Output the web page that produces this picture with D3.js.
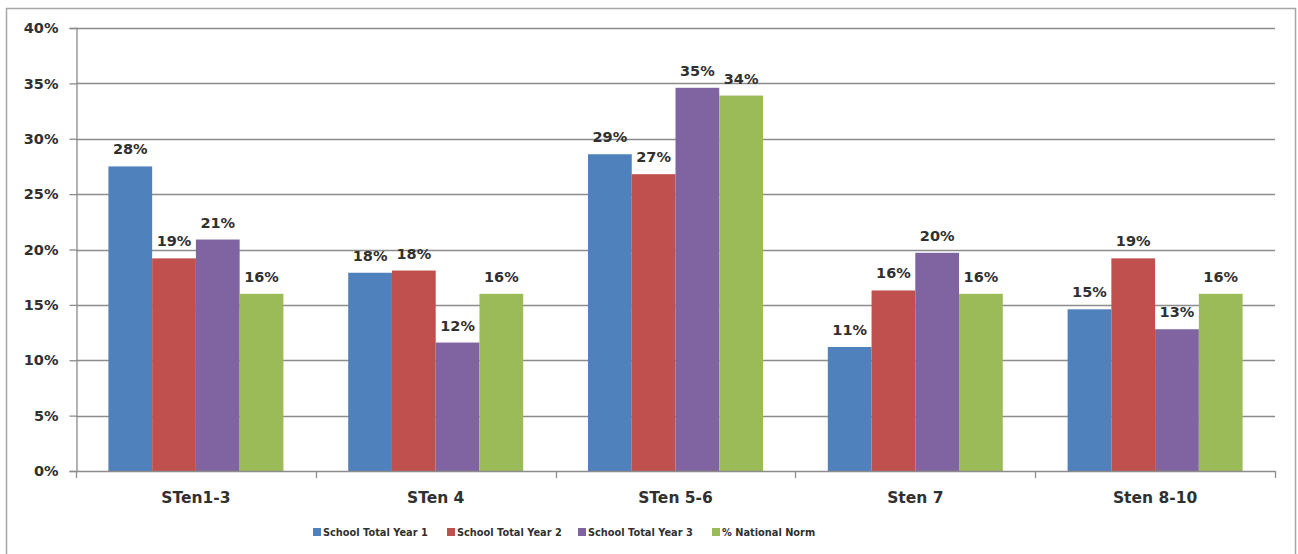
<!DOCTYPE html>
<html><head><meta charset="utf-8">
<script src="https://cdn.jsdelivr.net/npm/d3@7/dist/d3.min.js"></script>
<style>body{margin:0;background:#fff}svg{display:block}</style>
</head><body>
<svg id="c" width="1298" height="554"></svg>
<script>
const categories = ["STen1-3", "STen 4", "STen 5-6", "Sten 7", "Sten 8-10"];
const seriesNames = ["School Total Year 1", "School Total Year 2", "School Total Year 3", "% National Norm"];
const year1 = [27.5, 17.9, 28.6, 11.2, 14.6];
const year2 = [19.2, 18.1, 26.8, 16.3, 19.2];
const year3 = [20.9, 11.6, 34.6, 19.7, 12.8];
const norm  = [16.0, 16.0, 33.9, 16.0, 16.0];
const yTicks = [0, 5, 10, 15, 20, 25, 30, 35, 40];
const colors = ["#4F81BD", "#C0504D", "#8064A2", "#9BBB59"];

const seriesValues = [year1, year2, year3, norm];
const svg = d3.select("#c");
const M = {left: 76, right: 1275, top: 28, bottom: 471};
const font = "'DejaVu Sans', Verdana, sans-serif";
const textCol = "#303030";

svg.append("rect").attr("x", 6.5).attr("y", 8.5).attr("width", 1289).attr("height", 560)
  .attr("fill", "#fff").attr("stroke", "#a6a6a6").attr("stroke-width", 1.5);

const x0 = d3.scaleBand().domain(categories).range([M.left, M.right]).paddingInner(0).paddingOuter(0);
const groupW = 175;
const x1 = d3.scaleBand().domain(seriesNames).range([0, groupW]);
const y = d3.scaleLinear().domain([0, 40]).range([M.bottom, M.top]);

// gridlines
svg.append("g").selectAll("line").data(yTicks.filter(d => d > 0)).join("line")
  .attr("x1", M.left).attr("x2", M.right)
  .attr("y1", d => Math.round(y(d)) + 0.5).attr("y2", d => Math.round(y(d)) + 0.5)
  .attr("stroke", "#8c8c8c").attr("stroke-width", 1.3);

// y axis
const yAxis = d3.axisLeft(y).tickValues(yTicks).tickFormat(d => d + "%").tickSize(7).tickPadding(8);
const gy = svg.append("g").attr("transform", `translate(${M.left + 0.5},0)`).call(yAxis);
gy.select(".domain").attr("stroke", "#8c8c8c").attr("stroke-width", 1.3);
gy.selectAll(".tick line").attr("stroke", "#8c8c8c").attr("stroke-width", 1.3);
gy.selectAll(".tick text").attr("font-family", font).attr("font-size", 14.5).attr("font-weight", "bold")
  .attr("fill", textCol).attr("dx", -3);

// bars
const groups = svg.append("g").selectAll("g").data(categories).join("g")
  .attr("transform", c => `translate(${x0(c) + (x0.bandwidth() - groupW) / 2},0)`);
groups.each(function(c, ci) {
  const g = d3.select(this);
  seriesNames.forEach((s, si) => {
    const v = seriesValues[si][ci];
    g.append("rect").attr("x", x1(s)).attr("width", x1.bandwidth())
      .attr("y", y(v)).attr("height", y(0) - y(v)).attr("fill", colors[si]);
    g.append("text").attr("x", x1(s) + x1.bandwidth() / 2).attr("y", y(v) - 12)
      .attr("text-anchor", "middle").attr("font-family", font).attr("font-size", 14.5)
      .attr("font-weight", "bold").attr("fill", textCol).text(Math.round(v) + "%");
  });
});

// x axis
const xAxis = d3.axisBottom(x0).tickSize(0).tickPadding(20);
const gx = svg.append("g").attr("transform", `translate(0,${M.bottom + 0.5})`).call(xAxis);
gx.select(".domain").attr("stroke", "#8c8c8c").attr("stroke-width", 1.3).attr("d", `M${M.left},0H${M.right}`);
gx.selectAll(".tick text").attr("font-family", font).attr("font-size", 15.5).attr("font-weight", "bold").attr("fill", textCol);
const bounds = d3.range(categories.length + 1).map(i => M.left + i * x0.bandwidth());
svg.append("g").selectAll("line").data(bounds).join("line")
  .attr("x1", d => Math.round(d) + 0.5).attr("x2", d => Math.round(d) + 0.5)
  .attr("y1", M.bottom).attr("y2", M.bottom + 7)
  .attr("stroke", "#8c8c8c").attr("stroke-width", 1.3);

// legend
const legendX = [313, 447, 578, 712];
const lg = svg.append("g").selectAll("g").data(seriesNames).join("g")
  .attr("transform", (d, i) => `translate(${legendX[i]},532)`);
lg.append("rect").attr("x", 0).attr("y", -4).attr("width", 8).attr("height", 8).attr("fill", (d, i) => colors[i]);
lg.append("text").attr("x", 10).attr("y", 4).attr("font-family", font).attr("font-size", 9.8)
  .attr("font-weight", "bold").attr("fill", textCol).text(d => d);
</script>
</body></html>
